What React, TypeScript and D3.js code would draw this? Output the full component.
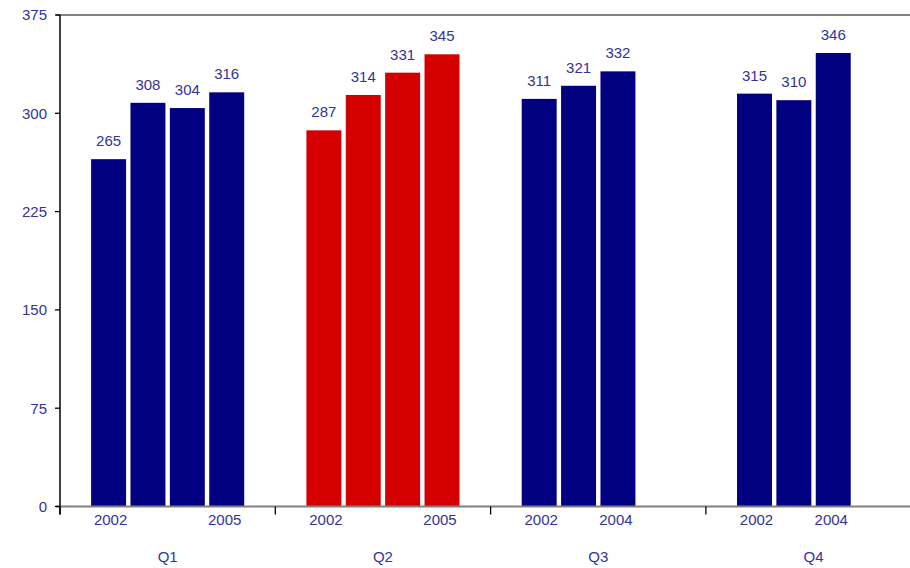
import React from "react";
import * as d3 from "d3";

// Quarterly totals by year; Q3 and Q4 only have data through 2004
const quarters = ["Q1", "Q2", "Q3", "Q4"];
const yearSlots = ["2002", "2003", "2004", "2005"];
const q1Values = [265, 308, 304, 316];
const q2Values = [287, 314, 331, 345];
const q3Values = [311, 321, 332];
const q4Values = [315, 310, 346];
const quarterValues = [q1Values, q2Values, q3Values, q4Values];
const highlightQuarter = "Q2";
const yTicks = [0, 75, 150, 225, 300, 375];

const W = 910;
const H = 568;
const NAVY = "#000080";
const RED = "#d40000";
const TEXT = "#333399";
const FONT = "'Liberation Sans', Arial, sans-serif";

export default function App() {
  const left = 60;
  const top = 15;
  const bottom = 506.5;
  const groupW = 215.3;

  const x0 = d3
    .scaleBand<string>()
    .domain(quarters)
    .range([left, left + groupW * quarters.length])
    .padding(0);
  const x1 = d3
    .scaleBand<string>()
    .domain(yearSlots)
    .range([0, x0.bandwidth()])
    .paddingInner(0.112)
    .paddingOuter(0.79);
  const y = d3.scaleLinear().domain([0, 375]).range([bottom, top]);

  const groupEdges = quarters.map((q) => x0(q) as number);

  return (
    <svg
      width={W}
      height={H}
      style={{ position: "absolute", left: 0, top: 0, background: "#fff" }}
      fontFamily={FONT}
    >
      {/* top border */}
      <line x1={56} x2={W} y1={y(375)} y2={y(375)} stroke="#808080" strokeWidth={2} />

      {/* bars */}
      {quarters.map((q, qi) => {
        const vals = quarterValues[qi];
        const color = q === highlightQuarter ? RED : NAVY;
        return (
          <g key={q} transform={`translate(${x0(q)},0)`}>
            {vals.map((v, i) => {
              const bx = x1(yearSlots[i]) as number;
              return (
                <g key={i}>
                  <rect
                    x={bx}
                    y={y(v)}
                    width={x1.bandwidth()}
                    height={y(0) - y(v)}
                    fill={color}
                  />
                  <text
                    x={bx + x1.bandwidth() / 2}
                    y={y(v) - 13}
                    textAnchor="middle"
                    fontSize={15}
                    fill={TEXT}
                  >
                    {v}
                  </text>
                </g>
              );
            })}
            {/* first and last year label of each quarter */}
            {[0, vals.length - 1].map((i) => (
              <text
                key={`yl${i}`}
                x={(x1(yearSlots[i]) as number) + x1.bandwidth() / 2 + (i === 0 ? 2 : -2)}
                y={524.5}
                textAnchor="middle"
                fontSize={15}
                fill={TEXT}
              >
                {yearSlots[i]}
              </text>
            ))}
            <text
              x={x0.bandwidth() / 2}
              y={561.5}
              textAnchor="middle"
              fontSize={15}
              fill={TEXT}
            >
              {q}
            </text>
          </g>
        );
      })}

      {/* x axis */}
      <line x1={56} x2={W} y1={y(0)} y2={y(0)} stroke="#808080" strokeWidth={2} />
      {groupEdges.map((gx, i) => (
        <line
          key={i}
          x1={gx}
          x2={gx}
          y1={y(0)}
          y2={y(0) + 8}
          stroke="#000"
          strokeWidth={1.3}
        />
      ))}

      {/* y axis */}
      <line x1={left} x2={left} y1={y(375)} y2={y(0) + 8} stroke="#000" strokeWidth={1.5} />
      {yTicks.map((t) => (
        <g key={t}>
          <line x1={55} x2={left} y1={y(t)} y2={y(t)} stroke="#000" strokeWidth={1.3} />
          <text
            x={47}
            y={y(t)}
            dy="0.36em"
            textAnchor="end"
            fontSize={15}
            fill={TEXT}
          >
            {t}
          </text>
        </g>
      ))}
    </svg>
  );
}
